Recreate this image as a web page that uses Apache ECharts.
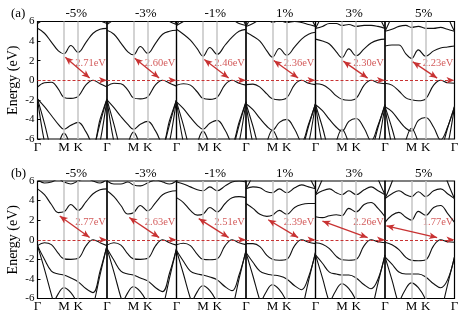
<!DOCTYPE html>
<html>
<head>
<meta charset="utf-8">
<script src="https://cdn.jsdelivr.net/npm/echarts@6/dist/echarts.min.js"></script>
<style>
  html, body { margin: 0; padding: 0; background: #fff; }
  #chart { width: 467px; height: 320px; }
</style>
</head>
<body>
<div id="chart"></div>
<script>
// k path (fraction of the Γ-M-K-Γ path) where the bands were read
const K_PTS = [0, 0.1, 0.2, 0.3, 0.38, 0.48, 0.585, 0.7, 0.8, 0.9, 1];
const HS_POS = [0, 0.38, 0.585, 1];
const HS_NAME = ['Γ', 'M', 'K', 'Γ'];
const STRAIN = ['-5%', '-3%', '-1%', '1%', '3%', '5%'];

const GAP_A = [2.71, 2.60, 2.46, 2.36, 2.30, 2.23];
const GAP_B = [2.77, 2.63, 2.51, 2.39, 2.26, 1.77];
const CBM_K_A = [0.38, 0.38, 0.38, 0.38, 0.38, 0.38];
const CBM_K_B = [0.3, 0.3, 0.3, 0.3, 0.08, 0];
const VBM_K = 0.8;

// ---- row (a) bands, one list per panel ----
const A_CB3 = [
  [5.8, 7.2, 9, 9, 9, 9, 9, 9, 9, 7.2, 5.8],
  [5.7, 7.1, 9, 9, 9, 9, 9, 9, 9, 7.1, 5.7],
  [5.6, 7.0, 9, 9, 9, 9, 9, 9, 9, 7.0, 5.6],
  [5.5, 6.9, 9, 9, 9, 9, 9, 9, 9, 6.9, 5.5],
  [5.3, 6.8, 9, 9, 9, 9, 9, 9, 9, 6.8, 5.3],
  [5.0, 6.6, 9, 9, 9, 9, 9, 9, 9, 6.6, 5.0]
];
const A_CB2 = [
  [5.8, 6.3, 7.0, 7.5, 7.5, 7.5, 7.5, 7.2, 6.6, 6.1, 5.8],
  [5.7, 6.2, 6.9, 7.3, 7.3, 7.3, 7.3, 7.0, 6.5, 6.0, 5.7],
  [5.6, 6.0, 6.5, 6.7, 6.2, 6.5, 6.2, 6.4, 6.2, 5.8, 5.6],
  [5.5, 5.8, 6.2, 6.3, 5.9, 6.1, 5.9, 6.0, 5.9, 5.7, 5.5],
  [5.3, 5.5, 5.8, 5.8, 5.6, 5.7, 5.5, 5.6, 5.6, 5.5, 5.3],
  [5.0, 5.2, 5.5, 5.6, 5.4, 5.5, 5.3, 5.3, 5.4, 5.2, 5.0]
];
const A_CB1 = [
  [5.3, 4.8, 3.9, 3.0, 2.71, 3.55, 2.85, 3.9, 4.8, 5.2, 5.3],
  [5.1, 4.7, 3.8, 2.9, 2.60, 3.45, 2.75, 3.8, 4.7, 5.0, 5.1],
  [5.2, 4.7, 4.1, 3.2, 2.46, 3.35, 2.65, 3.6, 4.4, 5.0, 5.2],
  [4.9, 4.5, 4.0, 3.0, 2.36, 3.25, 2.55, 3.4, 4.2, 4.7, 4.9],
  [4.2, 4.0, 3.7, 2.9, 2.30, 3.2, 2.5, 3.2, 3.8, 4.1, 4.2],
  [3.5, 3.6, 3.6, 2.7, 2.23, 3.1, 2.45, 3.0, 3.3, 3.4, 3.5]
];
const A_VB1 = [
  [-0.7, -0.25, -0.2, -0.9, -1.75, -1.85, -1.65, -0.45, 0, -0.35, -0.7],
  [-0.6, -0.3, -0.35, -1.0, -1.8, -1.9, -1.7, -0.45, 0, -0.3, -0.6],
  [-0.5, -0.35, -0.5, -1.2, -1.85, -1.95, -1.75, -0.45, 0, -0.3, -0.5],
  [-0.45, -0.4, -0.7, -1.4, -1.9, -2.0, -1.8, -0.45, 0, -0.3, -0.45],
  [-0.35, -0.45, -0.9, -1.6, -1.95, -2.05, -1.85, -0.5, 0, -0.25, -0.35],
  [-0.3, -0.5, -1.1, -1.8, -2.0, -2.1, -1.9, -0.5, 0, -0.25, -0.3]
];
const A_VB2 = [
  [-1.9, -2.7, -3.6, -4.5, -5.0, -4.6, -4.3, -5.3, -6.6, -4.0, -1.9],
  [-2.0, -2.8, -3.7, -4.5, -5.0, -4.5, -4.2, -5.2, -6.5, -4.1, -2.0],
  [-2.2, -2.9, -3.8, -4.6, -5.0, -4.4, -4.1, -5.1, -6.4, -4.3, -2.2],
  [-2.4, -3.0, -3.9, -4.7, -5.1, -4.3, -4.0, -5.0, -6.3, -4.5, -2.4],
  [-2.5, -3.1, -4.0, -4.8, -5.2, -4.2, -3.9, -4.9, -6.2, -4.6, -2.5],
  [-2.7, -3.2, -4.1, -4.9, -5.2, -4.1, -3.8, -4.8, -6.1, -4.8, -2.7]
];
const A_VB3 = [
  [-1.9, -6.3, -9, -9, -9, -9, -9, -9, -9, -6.3, -1.9],
  [-2.0, -6.3, -9, -9, -9, -9, -9, -9, -9, -6.3, -2.0],
  [-2.2, -6.4, -9, -9, -9, -9, -9, -9, -9, -6.4, -2.2],
  [-2.4, -6.5, -9, -9, -9, -9, -9, -9, -9, -6.5, -2.4],
  [-2.5, -6.6, -9, -9, -9, -9, -9, -9, -9, -6.6, -2.5],
  [-2.7, -6.7, -9, -9, -9, -9, -9, -9, -9, -6.7, -2.7]
];
const A_VB4 = [
  [-1.9, -4.4, -7.2, -9, -9, -9, -9, -9, -7.2, -4.4, -1.9],
  [-2.0, -4.5, -7.2, -9, -9, -9, -9, -9, -7.2, -4.5, -2.0],
  [-2.2, -4.6, -7.3, -9, -9, -9, -9, -9, -7.3, -4.6, -2.2],
  [-2.4, -4.7, -7.3, -9, -9, -9, -9, -9, -7.3, -4.7, -2.4],
  [-2.5, -4.8, -7.4, -9, -9, -9, -9, -9, -7.4, -4.8, -2.5],
  [-2.7, -4.9, -7.4, -9, -9, -9, -9, -9, -7.4, -4.9, -2.7]
];
const A_VB5 = [
  [-9, -9, -8.5, -6.6, -5.4, -6.8, -8.5, -9, -9, -9, -9],
  [-9, -9, -8.4, -6.5, -5.3, -6.7, -8.4, -9, -9, -9, -9],
  [-9, -9, -8.3, -6.4, -5.2, -6.6, -8.3, -9, -9, -9, -9],
  [-9, -9, -8.2, -6.3, -5.1, -6.5, -8.2, -9, -9, -9, -9],
  [-9, -9, -8.1, -6.2, -5.0, -6.4, -8.1, -9, -9, -9, -9],
  [-9, -9, -8.0, -6.1, -4.9, -6.3, -8.0, -9, -9, -9, -9]
];

// ---- row (b) bands ----
const B_CB3 = [
  [6.2, 7.5, 9, 9, 9, 9, 9, 9, 9, 7.5, 6.2],
  [6.0, 7.4, 9, 9, 9, 9, 9, 9, 9, 7.4, 6.0],
  [5.9, 7.3, 9, 9, 9, 9, 9, 9, 9, 7.3, 5.9],
  [5.2, 6.6, 8.5, 9, 9, 9, 9, 9, 8.5, 6.6, 5.2],
  [4.6, 6.2, 8.2, 9, 9, 9, 9, 9, 8.2, 6.2, 4.6],
  [4.2, 5.9, 8.0, 9, 9, 9, 9, 9, 8.0, 5.9, 4.2]
];
const B_CB2 = [
  [6.2, 5.8, 5.9, 6.2, 5.9, 5.7, 6.0, 6.3, 6.0, 5.8, 6.2],
  [6.0, 5.7, 5.7, 5.9, 5.6, 5.5, 5.8, 6.1, 5.9, 5.7, 6.0],
  [5.9, 5.7, 5.4, 5.1, 5.0, 5.4, 5.0, 5.5, 5.9, 6.0, 5.9],
  [5.2, 5.4, 5.3, 4.9, 4.8, 5.2, 4.8, 5.3, 5.6, 5.4, 5.2],
  [4.6, 5.0, 5.2, 4.8, 4.6, 5.0, 4.6, 5.1, 5.4, 5.0, 4.6],
  [4.2, 4.7, 5.0, 4.6, 4.4, 4.9, 4.4, 5.0, 5.2, 4.7, 4.2]
];
const B_CB1 = [
  [5.2, 4.6, 3.6, 2.77, 2.85, 3.6, 3.0, 3.9, 4.7, 5.1, 5.2],
  [5.0, 4.4, 3.5, 2.63, 2.75, 3.5, 2.95, 3.8, 4.6, 4.9, 5.0],
  [4.3, 3.8, 3.0, 2.51, 2.6, 3.3, 2.85, 3.7, 4.3, 4.4, 4.3],
  [3.7, 3.2, 2.6, 2.39, 2.5, 3.0, 2.6, 3.3, 3.6, 3.7, 3.7],
  [2.35, 2.26, 2.45, 2.55, 2.45, 3.2, 2.85, 3.6, 3.8, 3.2, 2.35],
  [1.77, 2.5, 2.8, 2.3, 2.0, 2.9, 2.5, 3.3, 3.5, 2.7, 1.77]
];
const B_VB1 = [
  [-0.6, -0.3, -0.5, -1.4, -1.95, -2.0, -1.9, -0.6, 0, -0.3, -0.6],
  [-0.55, -0.3, -0.55, -1.45, -1.95, -2.0, -1.9, -0.6, 0, -0.3, -0.55],
  [-0.5, -0.35, -0.6, -1.5, -2.0, -2.05, -1.95, -0.6, 0, -0.3, -0.5],
  [-0.4, -0.4, -0.7, -1.6, -2.0, -2.1, -2.0, -0.6, 0, -0.25, -0.4],
  [-0.3, -0.45, -0.9, -1.7, -2.05, -2.1, -2.0, -0.6, 0, -0.2, -0.3],
  [-0.25, -0.5, -1.0, -1.8, -2.1, -2.15, -2.05, -0.6, 0, -0.2, -0.25]
];
const B_VB2 = [
  [-0.6, -2.0, -3.2, -3.5, -3.6, -3.9, -4.3, -5.0, -5.4, -3.2, -0.6],
  [-0.9, -2.1, -3.2, -3.5, -3.6, -3.9, -4.2, -4.9, -5.3, -3.4, -0.9],
  [-1.1, -2.2, -3.2, -3.5, -3.6, -3.8, -4.1, -4.8, -5.2, -3.6, -1.1],
  [-1.3, -2.3, -3.2, -3.5, -3.6, -3.7, -4.0, -4.7, -5.1, -3.8, -1.3],
  [-1.55, -2.4, -3.3, -3.5, -3.6, -3.6, -3.9, -4.6, -5.0, -4.0, -1.55],
  [-1.75, -2.5, -3.3, -3.5, -3.5, -3.5, -3.8, -4.5, -4.9, -4.1, -1.75]
];
const B_VB3 = [
  [-0.6, -3.0, -5.6, -8, -9, -9, -9, -9, -6.8, -3.6, -0.6],
  [-0.9, -3.3, -5.9, -8, -9, -9, -9, -9, -7.0, -3.9, -0.9],
  [-1.1, -3.5, -6.0, -8, -9, -9, -9, -9, -7.1, -4.0, -1.1],
  [-1.3, -3.7, -6.2, -8, -9, -9, -9, -9, -7.2, -4.2, -1.3],
  [-1.55, -3.9, -6.4, -8, -9, -9, -9, -9, -7.3, -4.4, -1.55],
  [-1.75, -4.1, -6.6, -8, -9, -9, -9, -9, -7.4, -4.6, -1.75]
];
const B_VB4 = [
  [-9, -9, -7.0, -5.5, -4.9, -5.4, -6.6, -8, -9, -9, -9],
  [-9, -9, -6.9, -5.4, -4.8, -5.3, -6.5, -8, -9, -9, -9],
  [-9, -9, -6.8, -5.3, -4.7, -5.2, -6.4, -8, -9, -9, -9],
  [-9, -9, -6.7, -5.2, -4.6, -5.1, -6.3, -8, -9, -9, -9],
  [-9, -9, -6.6, -5.1, -4.5, -5.0, -6.2, -8, -9, -9, -9],
  [-9, -9, -6.5, -5.0, -4.4, -4.9, -6.1, -8, -9, -9, -9]
];

const ROWS = [
  { bands: [A_CB3, A_CB2, A_CB1, A_VB1, A_VB2, A_VB3, A_VB4, A_VB5], gap: GAP_A, cbmK: CBM_K_A, top: 21.5, tag: '(a)' },
  { bands: [B_CB3, B_CB2, B_CB1, B_VB1, B_VB2, B_VB3, B_VB4], gap: GAP_B, cbmK: CBM_K_B, top: 181, tag: '(b)' }
];

const FONT = 'Liberation Serif';
const RED = '#c83232';
const LEFT0 = 37.5, PW = 69.5, PH = 117.5;

const grid = [], xAxis = [], yAxis = [], series = [], title = [];

ROWS.forEach((row, r) => {
  title.push({ text: row.tag, left: 11, top: row.top - 14, padding: 0,
    textStyle: { fontFamily: FONT, fontSize: 13, fontWeight: 'normal', color: '#000' } });
  STRAIN.forEach((s, i) => {
    const g = r * 6 + i;
    const left = LEFT0 + i * PW;
    grid.push({ left: left, top: row.top, width: PW, height: PH, show: true,
      borderColor: '#000', borderWidth: 1.2 });
    title.push({ text: s, left: left + PW / 2 + 4, top: row.top - 14, textAlign: 'center', padding: 0,
      textStyle: { fontFamily: FONT, fontSize: 13, fontWeight: 'normal', color: '#000' } });
    const ticks = i === 5 ? HS_POS : HS_POS.slice(0, 3);
    xAxis.push({ gridIndex: g, type: 'value', min: 0, max: 1,
      axisLine: { show: false }, splitLine: { show: false }, axisTick: { show: false },
      axisLabel: { customValues: ticks, formatter: v => HS_NAME[HS_POS.indexOf(v)],
        fontFamily: FONT, fontSize: 13, color: '#000', margin: 2 } });
    yAxis.push({ gridIndex: g, type: 'value', min: -6, max: 6, interval: 2,
      axisLine: { show: false }, splitLine: { show: false },
      axisTick: { show: i === 0, inside: true, length: 3, lineStyle: { color: '#000' } },
      axisLabel: { show: i === 0, fontFamily: FONT, fontSize: 11, color: '#000', margin: 3 },
      name: i === 0 ? 'Energy (eV)' : '', nameLocation: 'middle', nameGap: 17,
      nameTextStyle: { fontFamily: FONT, fontSize: 14, color: '#000' } });

    // high-symmetry guide lines
    series.push({ type: 'line', xAxisIndex: g, yAxisIndex: g, data: [], z: 1, silent: true,
      markLine: { silent: true, symbol: 'none', label: { show: false },
        lineStyle: { color: '#c4c4c4', width: 1.5, type: 'solid' },
        data: [{ xAxis: HS_POS[1] }, { xAxis: HS_POS[2] }] } });

    row.bands.forEach(b => {
      series.push({ type: 'line', xAxisIndex: g, yAxisIndex: g, z: 2, silent: true,
        smooth: 0.4, showSymbol: false, clip: true,
        lineStyle: { color: '#111', width: 1.1 },
        data: K_PTS.map((k, j) => [k, b[i][j]]) });
    });

    // fermi line, gap arrow and label
    const gap = row.gap[i];
    const k0 = row.cbmK[i];
    series.push({ type: 'scatter', xAxisIndex: g, yAxisIndex: g, z: 4, silent: true,
      symbolSize: 0, data: [[0.985, 1.75]],
      label: { show: true, position: 'left', distance: 0, formatter: gap.toFixed(2) + 'eV',
        fontFamily: FONT, fontSize: 10.5, color: RED },
      markLine: { silent: true, label: { show: false }, symbolSize: [5, 8],
        data: [
          { yAxis: 0, symbol: 'none', lineStyle: { color: RED, width: 1, type: [3, 2] } },
          [{ coord: [k0 + 0.02, gap - 0.35], symbol: 'arrow',
             lineStyle: { color: RED, width: 1.3, type: 'solid' } },
           { coord: [VBM_K - 0.05, 0.22], symbol: 'arrow' }]
        ] } });
  });
});

const chart = echarts.init(document.getElementById('chart'));
chart.setOption({
  animation: false,
  backgroundColor: '#fff',
  title: title,
  grid: grid,
  xAxis: xAxis,
  yAxis: yAxis,
  series: series
});
</script>
</body>
</html>
